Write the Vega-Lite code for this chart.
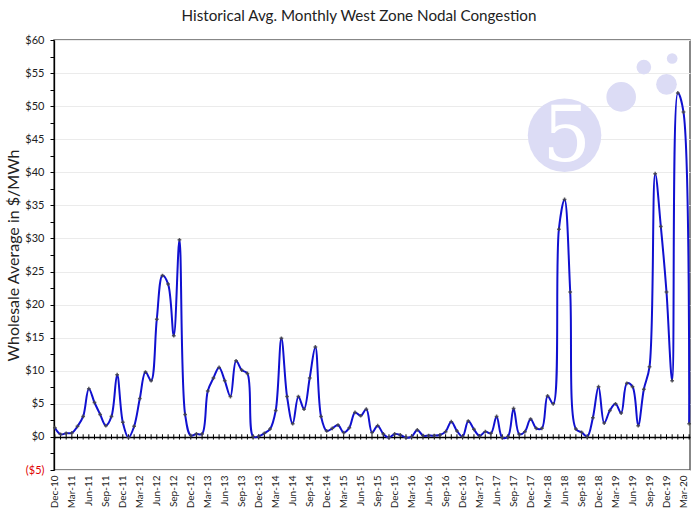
{
  "$schema": "https://vega.github.io/schema/vega-lite/v6.json",
  "autosize": {"type": "none"},
  "width": 636,
  "height": 430,
  "padding": {"left": 54, "top": 40, "right": 10, "bottom": 45},
  "background": "white",
  "config": {
    "font": "Lato",
    "view": {"stroke": "#606060", "strokeWidth": 1.5},
    "axis": {"labelOverlap": false}
  },
  "title": {
    "text": "Historical Avg. Monthly West Zone Nodal Congestion",
    "fontSize": 15.2,
    "fontWeight": "normal",
    "color": "#222",
    "offset": 10,
    "dx": -13
  },
  "datasets": {
    "months": [
      {"m": "Dec-10", "v": 1.4}, {"m": "Jan-11", "v": 0.4}, {"m": "Feb-11", "v": 0.55}, {"m": "Mar-11", "v": 0.6},
      {"m": "Apr-11", "v": 1.6}, {"m": "May-11", "v": 3.1}, {"m": "Jun-11", "v": 7.3}, {"m": "Jul-11", "v": 5.2},
      {"m": "Aug-11", "v": 3.4}, {"m": "Sep-11", "v": 1.7}, {"m": "Oct-11", "v": 3.1}, {"m": "Nov-11", "v": 9.4},
      {"m": "Dec-11", "v": 2.2}, {"m": "Jan-12", "v": -0.1}, {"m": "Feb-12", "v": 1.6}, {"m": "Mar-12", "v": 5.8},
      {"m": "Apr-12", "v": 9.8}, {"m": "May-12", "v": 8.5}, {"m": "Jun-12", "v": 17.8}, {"m": "Jul-12", "v": 24.4},
      {"m": "Aug-12", "v": 23.1}, {"m": "Sep-12", "v": 15.3}, {"m": "Oct-12", "v": 29.8}, {"m": "Nov-12", "v": 3.4},
      {"m": "Dec-12", "v": 0.2}, {"m": "Jan-13", "v": 0.45}, {"m": "Feb-13", "v": 0.45}, {"m": "Mar-13", "v": 6.95},
      {"m": "Apr-13", "v": 8.9}, {"m": "May-13", "v": 10.5}, {"m": "Jun-13", "v": 8.5}, {"m": "Jul-13", "v": 6.1},
      {"m": "Aug-13", "v": 11.5}, {"m": "Sep-13", "v": 10.1}, {"m": "Oct-13", "v": 9.6}, {"m": "Nov-13", "v": 0.05},
      {"m": "Dec-13", "v": 0.1}, {"m": "Jan-14", "v": 0.55}, {"m": "Feb-14", "v": 1.2}, {"m": "Mar-14", "v": 4.0},
      {"m": "Apr-14", "v": 14.9}, {"m": "May-14", "v": 6.1}, {"m": "Jun-14", "v": 2.0}, {"m": "Jul-14", "v": 6.1},
      {"m": "Aug-14", "v": 4.2}, {"m": "Sep-14", "v": 8.9}, {"m": "Oct-14", "v": 13.6}, {"m": "Nov-14", "v": 3.1},
      {"m": "Dec-14", "v": 0.9}, {"m": "Jan-15", "v": 1.3}, {"m": "Feb-15", "v": 1.8}, {"m": "Mar-15", "v": 0.65},
      {"m": "Apr-15", "v": 1.4}, {"m": "May-15", "v": 3.7}, {"m": "Jun-15", "v": 3.2}, {"m": "Jul-15", "v": 4.2},
      {"m": "Aug-15", "v": 0.65}, {"m": "Sep-15", "v": 1.7}, {"m": "Oct-15", "v": 0.45}, {"m": "Nov-15", "v": -0.1},
      {"m": "Dec-15", "v": 0.45}, {"m": "Jan-16", "v": 0.3}, {"m": "Feb-16", "v": -0.1}, {"m": "Mar-16", "v": 0.05},
      {"m": "Apr-16", "v": 1.05}, {"m": "May-16", "v": 0.2}, {"m": "Jun-16", "v": 0.2}, {"m": "Jul-16", "v": 0.2},
      {"m": "Aug-16", "v": 0.3}, {"m": "Sep-16", "v": 0.8}, {"m": "Oct-16", "v": 2.3}, {"m": "Nov-16", "v": 0.9},
      {"m": "Dec-16", "v": 0.05}, {"m": "Jan-17", "v": 2.4}, {"m": "Feb-17", "v": 1.15}, {"m": "Mar-17", "v": 0.15},
      {"m": "Apr-17", "v": 0.8}, {"m": "May-17", "v": 0.55}, {"m": "Jun-17", "v": 3.1}, {"m": "Jul-17", "v": -0.1},
      {"m": "Aug-17", "v": 0.05}, {"m": "Sep-17", "v": 4.3}, {"m": "Oct-17", "v": 0.4}, {"m": "Nov-17", "v": 0.8},
      {"m": "Dec-17", "v": 2.7}, {"m": "Jan-18", "v": 1.3}, {"m": "Feb-18", "v": 1.3}, {"m": "Mar-18", "v": 6.2},
      {"m": "Apr-18", "v": 5.0}, {"m": "May-18", "v": 31.4}, {"m": "Jun-18", "v": 35.9}, {"m": "Jul-18", "v": 21.9},
      {"m": "Aug-18", "v": 1.2}, {"m": "Sep-18", "v": 0.7}, {"m": "Oct-18", "v": 0.05}, {"m": "Nov-18", "v": 2.9},
      {"m": "Dec-18", "v": 7.6}, {"m": "Jan-19", "v": 2.1}, {"m": "Feb-19", "v": 4.0}, {"m": "Mar-19", "v": 5.0},
      {"m": "Apr-19", "v": 3.6}, {"m": "May-19", "v": 8.1}, {"m": "Jun-19", "v": 7.6}, {"m": "Jul-19", "v": 1.7},
      {"m": "Aug-19", "v": 7.2}, {"m": "Sep-19", "v": 10.6}, {"m": "Oct-19", "v": 39.8}, {"m": "Nov-19", "v": 31.8},
      {"m": "Dec-19", "v": 21.9}, {"m": "Jan-20", "v": 8.5}, {"m": "Feb-20", "v": 52.0}, {"m": "Mar-20", "v": 49.1},
      {"m": "Apr-20", "v": 2.0}
    ],
    "logo": [
      {"lm": "Jun-18", "lv": 45.6, "c": "big"},
      {"lm": "Apr-19", "lv": 51.4, "c": "b"},
      {"lm": "Aug-19", "lv": 55.9, "c": "c"},
      {"lm": "Dec-19", "lv": 53.3, "c": "d"},
      {"lm": "Jan-20", "lv": 57.2, "c": "e"}
    ]
  },
  "data": {"name": "months"},
  "encoding": {
    "x": {
      "field": "m",
      "type": "ordinal",
      "sort": null,
      "scale": {
        "type": "point",
        "padding": 0.15,
        "domain": ["Dec-10", "Jan-11", "Feb-11", "Mar-11", "Apr-11", "May-11", "Jun-11", "Jul-11", "Aug-11", "Sep-11", "Oct-11", "Nov-11", "Dec-11", "Jan-12", "Feb-12", "Mar-12", "Apr-12", "May-12", "Jun-12", "Jul-12", "Aug-12", "Sep-12", "Oct-12", "Nov-12", "Dec-12", "Jan-13", "Feb-13", "Mar-13", "Apr-13", "May-13", "Jun-13", "Jul-13", "Aug-13", "Sep-13", "Oct-13", "Nov-13", "Dec-13", "Jan-14", "Feb-14", "Mar-14", "Apr-14", "May-14", "Jun-14", "Jul-14", "Aug-14", "Sep-14", "Oct-14", "Nov-14", "Dec-14", "Jan-15", "Feb-15", "Mar-15", "Apr-15", "May-15", "Jun-15", "Jul-15", "Aug-15", "Sep-15", "Oct-15", "Nov-15", "Dec-15", "Jan-16", "Feb-16", "Mar-16", "Apr-16", "May-16", "Jun-16", "Jul-16", "Aug-16", "Sep-16", "Oct-16", "Nov-16", "Dec-16", "Jan-17", "Feb-17", "Mar-17", "Apr-17", "May-17", "Jun-17", "Jul-17", "Aug-17", "Sep-17", "Oct-17", "Nov-17", "Dec-17", "Jan-18", "Feb-18", "Mar-18", "Apr-18", "May-18", "Jun-18", "Jul-18", "Aug-18", "Sep-18", "Oct-18", "Nov-18", "Dec-18", "Jan-19", "Feb-19", "Mar-19", "Apr-19", "May-19", "Jun-19", "Jul-19", "Aug-19", "Sep-19", "Oct-19", "Nov-19", "Dec-19", "Jan-20", "Feb-20", "Mar-20", "Apr-20"]
      },
      "axis": {
        "title": null,
        "orient": "bottom",
        "domain": false,
        "ticks": false,
        "grid": false,
        "labelAngle": -90,
        "labelFontSize": 10,
        "labelColor": "#222",
        "labelPadding": 5,
        "labelOverlap": false,
        "values": ["Dec-10", "Mar-11", "Jun-11", "Sep-11", "Dec-11", "Mar-12", "Jun-12", "Sep-12", "Dec-12", "Mar-13", "Jun-13", "Sep-13", "Dec-13", "Mar-14", "Jun-14", "Sep-14", "Dec-14", "Mar-15", "Jun-15", "Sep-15", "Dec-15", "Mar-16", "Jun-16", "Sep-16", "Dec-16", "Mar-17", "Jun-17", "Sep-17", "Dec-17", "Mar-18", "Jun-18", "Sep-18", "Dec-18", "Mar-19", "Jun-19", "Sep-19", "Dec-19", "Mar-20"]
      }
    },
    "y": {
      "field": "v",
      "type": "quantitative",
      "scale": {"domain": [-5, 60], "nice": false, "zero": false},
      "axis": {
        "title": "Wholesale Average in $/MWh",
        "titleFontSize": 16,
        "titleFontWeight": "normal",
        "titleColor": "#222",
        "titlePadding": 3,
        "values": [-5, -2.5, 0, 2.5, 5, 7.5, 10, 12.5, 15, 17.5, 20, 22.5, 25, 27.5, 30, 32.5, 35, 37.5, 40, 42.5, 45, 47.5, 50, 52.5, 55, 57.5, 60],
        "labelExpr": "datum.value % 5 == 0 ? (datum.value < 0 ? '($' + abs(datum.value) + ')' : '$' + datum.value) : ''",
        "labelOverlap": false,
        "labelFontSize": 11,
        "labelColor": {"condition": {"test": "datum.value < 0", "value": "#e00000"}, "value": "#222"},
        "labelPadding": 6,
        "domainColor": "#000",
        "domainWidth": 1.3,
        "tickColor": "#000",
        "tickSize": 4,
        "grid": true,
        "gridColor": {"condition": {"test": "datum.value == 0", "value": "#000000"}, "value": "#ebebeb"},
        "gridWidth": {"condition": {"test": "datum.value == 0", "value": 1.4}, "value": 1},
        "gridOpacity": {"condition": {"test": "datum.value % 5 == 0", "value": 1}, "value": 0}
      }
    }
  },
  "layer": [
    {
      "data": {"name": "logo"},
      "mark": {"type": "point", "filled": true, "color": "#dcdcf5", "opacity": 1},
      "encoding": {
        "x": {"field": "lm", "type": "ordinal"},
        "y": {"field": "lv", "type": "quantitative"},
        "size": {
          "field": "c",
          "type": "nominal",
          "scale": {"type": "ordinal", "domain": ["big", "b", "c", "d", "e"], "range": [5400, 876, 216, 430, 113]},
          "legend": null
        }
      }
    },
    {
      "data": {"name": "logo"},
      "transform": [{"filter": "datum.c == 'big'"}],
      "mark": {"type": "text", "text": "5", "font": "DejaVu Serif", "fontSize": 76, "color": "white", "baseline": "middle", "align": "center", "dy": 3, "dx": 2},
      "encoding": {
        "x": {"field": "lm", "type": "ordinal"},
        "y": {"field": "lv", "type": "quantitative"}
      }
    },
    {
      "mark": {"type": "rule", "color": "#000", "strokeWidth": 1},
      "encoding": {"y": {"datum": -0.4, "type": "quantitative"}, "y2": {"datum": 0.4}}
    },
    {
      "mark": {"type": "line", "color": "#1010d0", "strokeWidth": 2, "interpolate": "catmull-rom"}
    },
    {
      "mark": {"type": "point", "shape": "cross", "filled": true, "size": 14, "color": "#444", "opacity": 0.85}
    }
  ]
}
